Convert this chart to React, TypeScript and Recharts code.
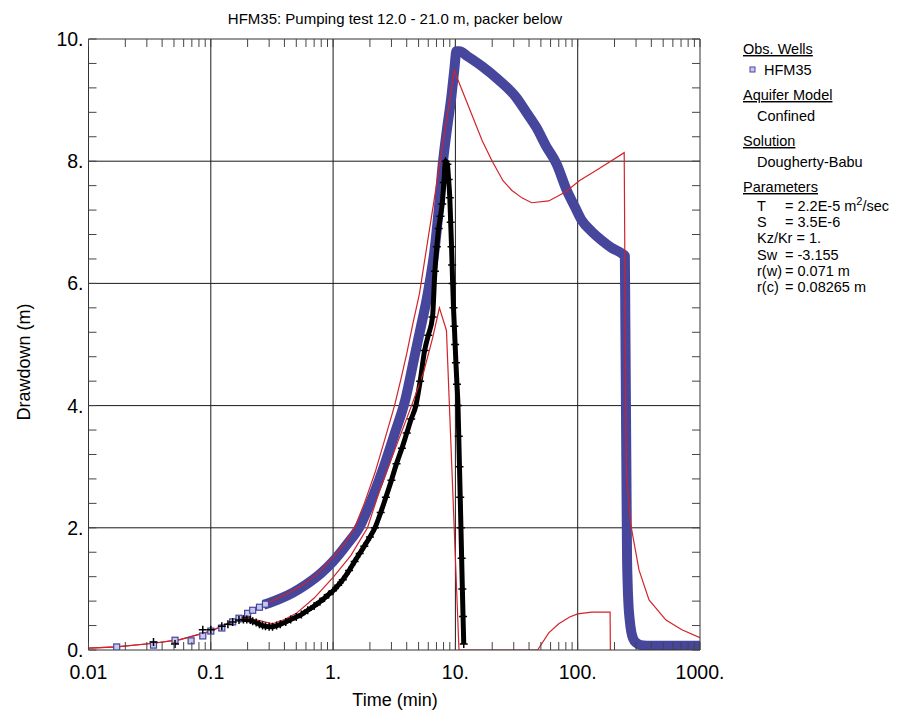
import React from 'react';
import { ComposedChart, Line, XAxis, YAxis, ReferenceLine } from 'recharts';

const FONT = '"Liberation Sans", Arial, Helvetica, sans-serif';
const BLUE = '#46469c';
const RED = '#d2232a';
const AXIS = '#333333';
const TICK = '#444444';
const GRID = '#1a1a1a';
const TICK_LEN = 8;

// axis ticks
const xMajor = [0.01, 0.1, 1, 10, 100, 1000];
const xMajorLabels = ['0.01', '0.1', '1.', '10.', '100.', '1000.'];
const xMinorMult = [2, 3, 4, 5, 6, 7, 8, 9];
const yMajor = [0, 2, 4, 6, 8, 10];
const yMajorLabels = ['0.', '2.', '4.', '6.', '8.', '10.'];
const yMinorStep = 0.4;
const xGrid = [0.1, 1, 10, 100];
const yGrid = [2, 4, 6, 8];

// HFM35 observed drawdown, early sparse readings
const blueSparseTime = [0.017, 0.034, 0.051, 0.069, 0.086, 0.1, 0.123, 0.151, 0.17, 0.2, 0.22, 0.25, 0.28];
const blueSparseDd = [0.05, 0.08, 0.16, 0.15, 0.23, 0.31, 0.36, 0.46, 0.52, 0.6, 0.65, 0.7, 0.75];

// HFM35 observed drawdown, dense logger readings
const blueTime = [
  0.27, 0.3, 0.37, 0.47, 0.6, 0.8, 1.0, 1.3, 1.65, 2.1, 2.6, 3.2, 3.9, 4.63, 5.3, 5.8, 6.2, 6.75, 7.3,
  7.83, 8.5, 9.26, 9.8, 10.2, 10.8, 12.5, 16.6, 22, 31.5, 38, 46, 55, 67, 81.5, 95, 108, 130, 158, 190,
  230, 243, 245, 247, 249, 251, 253, 256, 260, 266, 274, 285, 300, 330, 400, 550, 750, 1000,
];
const blueDd = [
  0.74, 0.77, 0.84, 0.94, 1.07, 1.26, 1.45, 1.73, 2.02, 2.5, 3.0, 3.55, 4.1, 4.8, 5.35, 5.72, 6.05, 6.54,
  7.2, 7.9, 8.5, 9.05, 9.5, 9.8, 9.8, 9.72, 9.55, 9.35, 9.04, 8.8, 8.55, 8.25, 7.96, 7.52, 7.25, 7.03, 6.85,
  6.7, 6.58, 6.49, 6.45, 5.5, 4.5, 3.5, 2.5, 1.6, 1.1, 0.75, 0.5, 0.3, 0.18, 0.12, 0.08, 0.07, 0.07, 0.07, 0.07,
];

// second record (plus markers), sparse early part
const blackSparseTime = [0.034, 0.051, 0.086, 0.1, 0.123, 0.138, 0.151];
const blackSparseDd = [0.13, 0.1, 0.33, 0.33, 0.39, 0.42, 0.46];

// second record, dense part
const blackTime = [
  0.17, 0.185, 0.197, 0.21, 0.22, 0.235, 0.25, 0.265, 0.28, 0.3, 0.32, 0.345, 0.37, 0.41, 0.45, 0.5, 0.55,
  0.62, 0.7, 0.78, 0.85, 0.92, 1.0, 1.1, 1.2, 1.35, 1.5, 1.65, 1.8, 2.0, 2.2, 2.45, 2.7, 3.0, 3.3, 3.65,
  4.0, 4.35, 4.75, 5.15, 5.6, 6.0, 6.5, 6.8, 7.05, 7.3, 7.55, 7.8, 8.05, 8.3, 8.6, 8.8, 9.0, 9.15, 9.3,
  9.4, 9.5, 9.65, 9.8, 9.95, 10.1, 10.3, 10.5, 10.65, 10.8, 10.95, 11.1, 11.25, 11.4, 11.55, 11.7,
];
const blackDd = [
  0.49, 0.5, 0.5, 0.49, 0.47, 0.45, 0.42, 0.4, 0.39, 0.38, 0.38, 0.4, 0.42, 0.46, 0.5, 0.54, 0.58,
  0.65, 0.72, 0.79, 0.85, 0.91, 0.97, 1.06, 1.15, 1.3, 1.45, 1.58, 1.7, 1.85, 2.0, 2.25, 2.5, 2.78, 3.05, 3.3,
  3.55, 3.78, 4.0, 4.4, 4.9, 5.15, 5.45, 6.2, 6.6, 6.9, 7.1, 7.3, 7.65, 8.0, 7.95, 7.7, 7.4, 7.0, 6.6,
  6.3, 6.0, 5.6, 5.3, 5.0, 4.7, 4.35, 4.0, 3.5, 3.0, 2.5, 2.0, 1.5, 1.0, 0.55, 0.1,
];

// Dougherty-Babu model curve for HFM35
const modelTime = [
  0.01, 0.017, 0.034, 0.056, 0.1, 0.16, 0.2, 0.25, 0.3, 0.4, 0.55, 0.75, 1.0, 1.25, 1.5, 1.8, 2.2, 2.65, 3.18,
  3.6, 4.0, 4.5, 5.08, 9.8, 16.6, 20, 24.5, 29, 35, 42, 58, 80, 103, 150, 240, 247, 250, 270, 317, 383, 527,
  711, 1000,
];
const modelDd = [
  0.03, 0.05, 0.11, 0.17, 0.31, 0.49, 0.6, 0.7, 0.78, 0.9, 1.05, 1.25, 1.52, 1.75, 2.0, 2.4, 2.9, 3.45, 4.0,
  4.45, 4.85, 5.35, 5.83, 9.48, 8.33, 8.0, 7.68, 7.52, 7.4, 7.32, 7.35, 7.5, 7.68, 7.88, 8.14, 4.0, 2.9, 2.08,
  1.31, 0.82, 0.49, 0.33, 0.2,
];

// model curve for the second record
const model2Time = [
  0.01, 0.017, 0.034, 0.056, 0.1, 0.16, 0.197, 0.25, 0.32, 0.4, 0.5, 0.7, 1.0, 1.4, 1.91, 2.4, 3.2, 4.38,
  5.5, 6.5, 7.4, 8.45, 10.7, 47, 58, 70, 86, 100, 130, 184, 185,
];
const model2Dd = [
  0.03, 0.05, 0.11, 0.17, 0.31, 0.49, 0.52, 0.48, 0.43, 0.5, 0.6, 0.85, 1.19, 1.55, 2.0, 2.61, 3.28, 4.0,
  4.55, 5.1, 5.6, 5.23, 0, 0, 0.28, 0.43, 0.54, 0.59, 0.62, 0.62, 0,
];

const pts = (t: number[], s: number[]) => t.map((x, i) => ({ t: x, s: s[i] }));

const blueSparse = pts(blueSparseTime, blueSparseDd);
const blue = pts(blueTime, blueDd);
const blackSparse = pts(blackSparseTime, blackSparseDd);
const black = pts(blackTime, blackDd);
const model = pts(modelTime, modelDd);
const model2 = pts(model2Time, model2Dd);

const xTicks = [
  ...xMajor,
  ...xMajor.slice(0, -1).flatMap((d) => xMinorMult.map((m) => +(d * m).toPrecision(6))),
].sort((a, b) => a - b);
const yTicks = Array.from({ length: 26 }, (_, i) => +(i * yMinorStep).toFixed(1));

// tick marks are drawn inward from the position the axis hands to the tick renderer
const BottomTick = (p: any) => {
  const i = xMajor.findIndex((v) => Math.abs(v - p.payload.value) < 1e-9);
  return (
    <g>
      <line x1={p.x} x2={p.x} y1={p.y} y2={p.y - TICK_LEN} stroke={TICK} />
      {i >= 0 && (
        <text x={p.x} y={p.y + 29} textAnchor="middle" fontFamily={FONT} fontSize={19.5} fill="#000">
          {xMajorLabels[i]}
        </text>
      )}
    </g>
  );
};

const TopTick = (p: any) => (
  <line x1={p.x} x2={p.x} y1={p.y} y2={p.y + TICK_LEN} stroke={TICK} />
);

const LeftTick = (p: any) => {
  const i = yMajor.findIndex((v) => Math.abs(v - p.payload.value) < 1e-6);
  return (
    <g>
      <line x1={p.x} x2={p.x + TICK_LEN} y1={p.y} y2={p.y} stroke={TICK} />
      {i >= 0 && (
        <text x={p.x - 5} y={p.y + 7} textAnchor="end" fontFamily={FONT} fontSize={19.5} fill="#000">
          {yMajorLabels[i]}
        </text>
      )}
    </g>
  );
};

const RightTick = (p: any) => (
  <line x1={p.x} x2={p.x - TICK_LEN} y1={p.y} y2={p.y} stroke={TICK} />
);

const SquareDot = (p: any) => {
  if (p.cx == null || p.cy == null) return <g key={p.index} />;
  return (
    <rect key={p.index} x={p.cx - 3} y={p.cy - 3} width={6} height={6} fill="#c8c8ec" stroke={BLUE} strokeWidth={1.2} />
  );
};

const PlusDot = (p: any) => {
  if (p.cx == null || p.cy == null) return <g key={p.index} />;
  return (
    <path key={p.index} d={`M${p.cx - 4},${p.cy}h8M${p.cx},${p.cy - 4}v8`} stroke="#000" strokeWidth={1.5} />
  );
};

const params = [
  ['T', '= 2.2E-5 m'],
  ['S', '= 3.5E-6'],
  ['Kz/Kr = 1.', ''],
  ['Sw', '= -3.155'],
  ['r(w)', '= 0.071 m'],
  ['r(c)', '= 0.08265 m'],
];

export default function App() {
  return (
    <div style={{ position: 'relative', width: 895, height: 704 }}>
      <ComposedChart width={720} height={700} margin={{ top: 30, right: 27, bottom: 18, left: 0 }}>
        <XAxis
          dataKey="t"
          type="number"
          scale="log"
          domain={[0.01, 1000]}
          allowDataOverflow
          ticks={xTicks}
          interval={0}
          tickLine={false}
          tickSize={0}
          tickMargin={0}
          tick={BottomTick}
          stroke={AXIS}
          height={40}
        />
        <XAxis
          xAxisId="top"
          orientation="top"
          dataKey="t"
          type="number"
          scale="log"
          domain={[0.01, 1000]}
          allowDataOverflow
          ticks={xTicks}
          interval={0}
          tickLine={false}
          tickSize={0}
          tickMargin={0}
          tick={TopTick}
          stroke={AXIS}
          height={1}
        />
        <YAxis
          type="number"
          domain={[0, 10]}
          allowDataOverflow
          ticks={yTicks}
          interval={0}
          tickLine={false}
          tickSize={0}
          tickMargin={0}
          tick={LeftTick}
          stroke={AXIS}
          width={80.5}
        />
        <YAxis
          yAxisId="right"
          orientation="right"
          type="number"
          domain={[0, 10]}
          allowDataOverflow
          ticks={yTicks}
          interval={0}
          tickLine={false}
          tickSize={0}
          tickMargin={0}
          tick={RightTick}
          stroke={AXIS}
          width={1}
        />
        {xGrid.map((v) => (
          <ReferenceLine key={'gx' + v} x={v} stroke={GRID} strokeWidth={1} />
        ))}
        {yGrid.map((v) => (
          <ReferenceLine key={'gy' + v} y={v} stroke={GRID} strokeWidth={1} />
        ))}
        <Line xAxisId="top" yAxisId="right" data={model} dataKey="s" stroke="none" dot={false} isAnimationActive={false} />
        <Line data={blue} dataKey="s" type="monotone" stroke={BLUE} strokeWidth={10} strokeLinejoin="round" dot={false} isAnimationActive={false} />
        <Line data={blueSparse} dataKey="s" type="linear" stroke="none" dot={SquareDot} isAnimationActive={false} />
        <Line data={black} dataKey="s" type="monotone" stroke="#000" strokeWidth={5} strokeLinejoin="round" dot={PlusDot} isAnimationActive={false} />
        <Line data={blackSparse} dataKey="s" type="linear" stroke="none" dot={PlusDot} isAnimationActive={false} />
        <Line data={model} dataKey="s" type="linear" stroke={RED} strokeWidth={1.2} dot={false} isAnimationActive={false} />
        <Line data={model2} dataKey="s" type="linear" stroke={RED} strokeWidth={1.2} dot={false} isAnimationActive={false} />
      </ComposedChart>
      <svg width={895} height={704} style={{ position: 'absolute', left: 0, top: 0, pointerEvents: 'none', overflow: 'visible' }}>
        <g transform="translate(-8,-8)" fontFamily={FONT} fill="#000">
          <text x={395} y={24} fontSize={15} textAnchor="middle">
            HFM35: Pumping test 12.0 - 21.0 m, packer below
          </text>
          <text x={395} y={706} fontSize={18} textAnchor="middle">
            Time (min)
          </text>
          <text x={30} y={362} fontSize={18} textAnchor="middle" transform="rotate(-90 30 362)">
            Drawdown (m)
          </text>
          <g fontSize={14.5}>
            <text x={743} y={54} style={{ textDecoration: 'underline' }}>Obs. Wells</text>
            <rect x={750} y={67} width={5} height={5} fill="#c8c8ec" stroke={BLUE} strokeWidth={1} />
            <text x={764} y={75}>HFM35</text>
            <text x={743} y={100} style={{ textDecoration: 'underline' }}>Aquifer Model</text>
            <text x={757} y={121}>Confined</text>
            <text x={743} y={146} style={{ textDecoration: 'underline' }}>Solution</text>
            <text x={757} y={167}>Dougherty-Babu</text>
            <text x={743} y={192} style={{ textDecoration: 'underline' }}>Parameters</text>
            {params.map(([k, v], i) => (
              <g key={k}>
                <text x={757} y={211 + i * 16.2}>{k}</text>
                {v && (
                  <text x={785} y={211 + i * 16.2}>
                    {v}
                    {i === 0 && (
                      <>
                        <tspan dy={-6} fontSize={11}>2</tspan>
                        <tspan dy={6}>/sec</tspan>
                      </>
                    )}
                  </text>
                )}
              </g>
            ))}
          </g>
        </g>
      </svg>
    </div>
  );
}
